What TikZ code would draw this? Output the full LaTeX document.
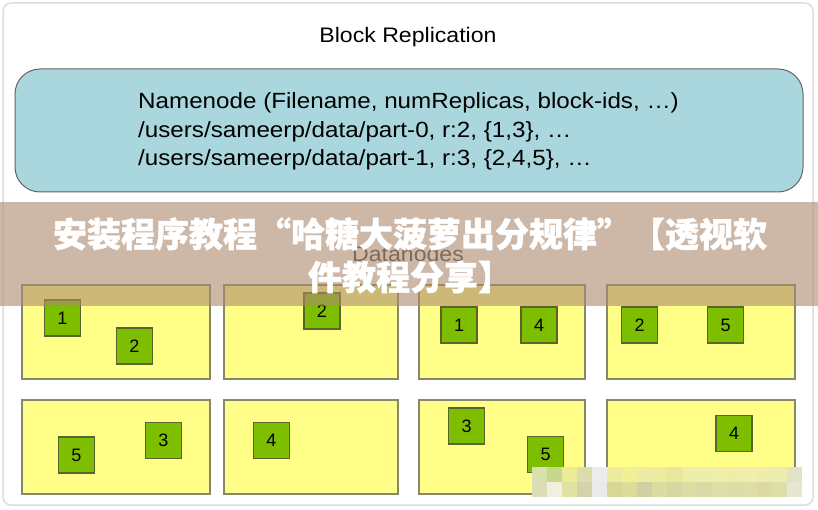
\documentclass[tikz,border=0pt]{standalone}
\usepackage{fontspec}
\setmainfont{Liberation Sans}
\newfontfamily\cjk[BoldFeatures={FakeBold=1.2}]{Noto Sans CJK SC}
\definecolor{framegray}{RGB}{222,222,222}
\definecolor{nnfill}{RGB}{170,215,221}
\definecolor{nnborder}{RGB}{100,100,100}
\definecolor{dnfill}{RGB}{255,255,136}
\definecolor{dnborder}{RGB}{135,135,110}
\definecolor{blkfill}{RGB}{125,190,0}
\definecolor{blkborder}{RGB}{90,100,45}
\definecolor{bannercol}{RGB}{172,138,110}
\definecolor{dntext}{RGB}{60,60,60}
\tikzset{
  dnbox/.style={draw=dnborder, fill=dnfill, line width=1.1pt, minimum height=94pt, inner sep=0pt},
  blk/.style={draw=blkborder, fill=blkfill, line width=1.1pt, minimum width=36pt, minimum height=36pt, inner sep=0pt, font=\fontsize{18}{20}\selectfont},
  nnline/.style={anchor=base west, inner sep=0pt, font=\fontsize{22}{26}\selectfont},
  banner/.style={text=white, font=\cjk\bfseries\fontsize{34}{36}\selectfont, inner sep=0pt}
}
\newcommand{\sx}[1]{\scalebox{1.1}[1]{#1}}
\begin{document}
\begin{tikzpicture}[x=1pt,y=-1pt]
\useasboundingbox (0,0) rectangle (818,510);
\fill[white] (0,0) rectangle (818,510);
\draw[framegray, line width=1.5pt, rounded corners=8pt] (3,3) rectangle (813,505);
% title
\node[font=\fontsize{21}{25}\selectfont, inner sep=0pt] (title) at (408,37) {\sx{Block Replication}};
% namenode
\node[draw=nnborder, fill=nnfill, rounded corners=25pt, minimum width=788pt, minimum height=123pt, line width=1pt, inner sep=0pt] (nn) at (409,130.5) {};
\node[nnline] (nn1) at (138,109) {\sx{Namenode (Filename, numReplicas, block-ids, …)}};
\node[nnline] (nn2) at (138,138) {\sx{/users/sameerp/data/part-0, r:2, \{1,3\}, …}};
\node[nnline] (nn3) at (138,166) {\sx{/users/sameerp/data/part-1, r:3, \{2,4,5\}, …}};
% datanodes label
\node[font=\fontsize{21}{25}\selectfont, text=dntext, inner sep=0pt] (dnlabel) at (408,254) {\sx{Datanodes}};
% datanode boxes
\node[dnbox, minimum width=188pt] (d11) at (116,332) {};
\node[dnbox, minimum width=174pt] (d12) at (311,332) {};
\node[dnbox, minimum width=166pt] (d13) at (502,332) {};
\node[dnbox, minimum width=188pt] (d14) at (701,332) {};
\node[dnbox, minimum width=188pt] (d21) at (116,447) {};
\node[dnbox, minimum width=174pt] (d22) at (311,447) {};
\node[dnbox, minimum width=166pt] (d23) at (502,447) {};
\node[dnbox, minimum width=188pt] (d24) at (701,447) {};
% blocks
\node[blk] (b111) at (62.5,318) {1};
\node[blk] (b112) at (134.5,346) {2};
\node[blk] (b121) at (322,311) {2};
\node[blk] (b131) at (459,325) {1};
\node[blk] (b132) at (539,325) {4};
\node[blk] (b141) at (639.5,325) {2};
\node[blk] (b142) at (725.5,325) {5};
\node[blk] (b211) at (76.5,455) {5};
\node[blk] (b212) at (163.5,440.5) {3};
\node[blk] (b221) at (271.5,440.5) {4};
\node[blk] (b231) at (466.5,426) {3};
\node[blk] (b232) at (545.5,454.5) {5};
\node[blk] (b241) at (734,433.5) {4};
% mosaic blur
\foreach \i/\ca/\cb in {
  0/{215,225,175}/{222,222,182},
  1/{200,215,140}/{240,240,225},
  2/{236,236,150}/{225,225,165},
  3/{220,220,172}/{210,210,172},
  4/{236,236,236}/{234,234,234},
  5/{236,236,160}/{215,215,150},
  6/{240,240,150}/{220,220,155},
  7/{236,236,165}/{208,208,165},
  8/{236,236,160}/{220,220,160},
  9/{232,232,156}/{214,214,160},
  10/{238,238,168}/{220,220,165},
  11/{238,238,172}/{218,218,168},
  12/{240,240,170}/{222,222,168},
  13/{238,238,168}/{220,220,165},
  14/{240,240,172}/{222,222,166},
  15/{238,238,170}/{218,218,162},
  16/{236,236,176}/{222,222,170},
  17/{226,226,196}/{230,230,210}} {
  \definecolor{mca}{RGB}{\ca}
  \definecolor{mcb}{RGB}{\cb}
  \fill[mca] (532+15*\i,467) rectangle ++(15,15);
  \fill[mcb] (532+15*\i,482) rectangle ++(15,15);
}
% banner overlay
\fill[bannercol, opacity=0.6] (0,202) rectangle (818,306);
\node[banner] (ban1) at (410,234) {安装程序教程“哈糖大菠萝出分规律”【透视软};
\node[banner] (ban2) at (410,277) {件教程分享】};
\end{tikzpicture}
\end{document}
